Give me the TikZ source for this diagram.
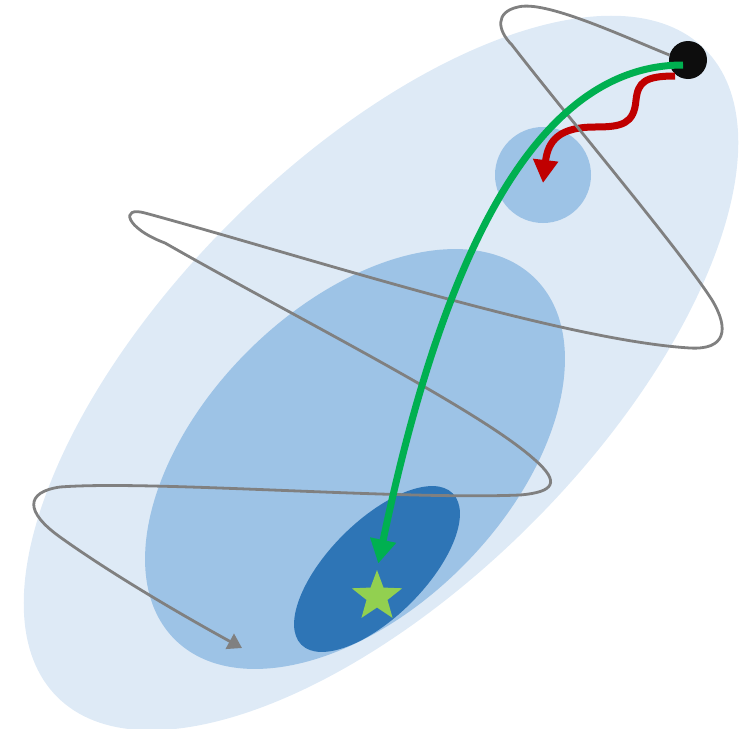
\documentclass[tikz,border=0pt]{standalone}
\usepackage{tikz}
\usetikzlibrary{arrows.meta, calc, shapes.geometric}
\definecolor{fieldblue}{HTML}{DEEAF6}
\definecolor{basinblue}{HTML}{9DC3E6}
\definecolor{coreblue}{HTML}{2E75B6}
\definecolor{goalgreen}{HTML}{92D050}
\definecolor{pathgreen}{HTML}{00B050}
\definecolor{walkred}{HTML}{C00000}
\definecolor{orbitgray}{HTML}{808080}
\definecolor{inkblack}{HTML}{0D0D0D}

\begin{document}
\begin{tikzpicture}[
    x=1pt, y=-1pt,
    region/.style={ellipse, inner sep=0pt, rotate=45, fill=#1},
    dotnode/.style={circle, inner sep=0pt, fill=#1},
    orbit/.style={draw=orbitgray, line width=2.8pt, -{Triangle[length=14pt, width=17pt]}},
    walk/.style={draw=walkred, line width=7pt, -{Triangle[length=23pt, width=24pt]}},
    descent/.style={draw=pathgreen, line width=7pt, -{Triangle[length=24pt, width=25pt]}},
]
    \useasboundingbox (0,0) rectangle (743,728);

    % Regions
    \node[region=fieldblue, minimum width=916pt, minimum height=426pt] (field) at (381,373) {};
    \node[region=basinblue, minimum width=510pt, minimum height=304pt] (basin) at (355,459) {};
    \node[dotnode=basinblue, minimum size=96pt] (pocket) at (543,175) {};
    \node[region=coreblue, minimum width=214pt, minimum height=96pt] (core) at (377,569) {};

    % Target and start
    \node[star, star points=5, star point ratio=2.4, inner sep=0pt, minimum size=53pt, fill=goalgreen] (goal) at (377,596.5) {};
    \node[dotnode=inkblack, minimum size=38pt] (init) at (688,60) {};
    \coordinate (orbitend) at (242,648);

    % Paths
    \draw[walk] ($(init)+(-13,16)$) .. controls (645,76) and (638,82) .. (636,100)
        .. controls (634,124) and (622,127) .. (595,127)
        .. controls (560,127) and (548,140) .. ($(pocket)+(0,8)$);
    \draw[orbit] (init.165) .. controls (620,35) and (545,0) .. (518,7)
        .. controls (495,12) and (497,30) .. (512,45)
        .. controls (570,120) and (680,250) .. (712,300)
        .. controls (730,330) and (725,350) .. (690,348)
        .. controls (560,340) and (300,255) .. (145,213)
        .. controls (120,206) and (125,228) .. (165,243)
        .. controls (300,320) and (480,410) .. (535,460)
        .. controls (560,482) and (555,492) .. (520,495)
        .. controls (400,500) and (150,480) .. (60,487)
        .. controls (25,492) and (25,512) .. (60,537)
        .. controls (120,580) and (200,625) .. (orbitend);
    \draw[descent, shorten >=6pt] ($(init)+(-5,5)$) .. controls (540,65) and (445,245) .. (goal.north);
\end{tikzpicture}
\end{document}
